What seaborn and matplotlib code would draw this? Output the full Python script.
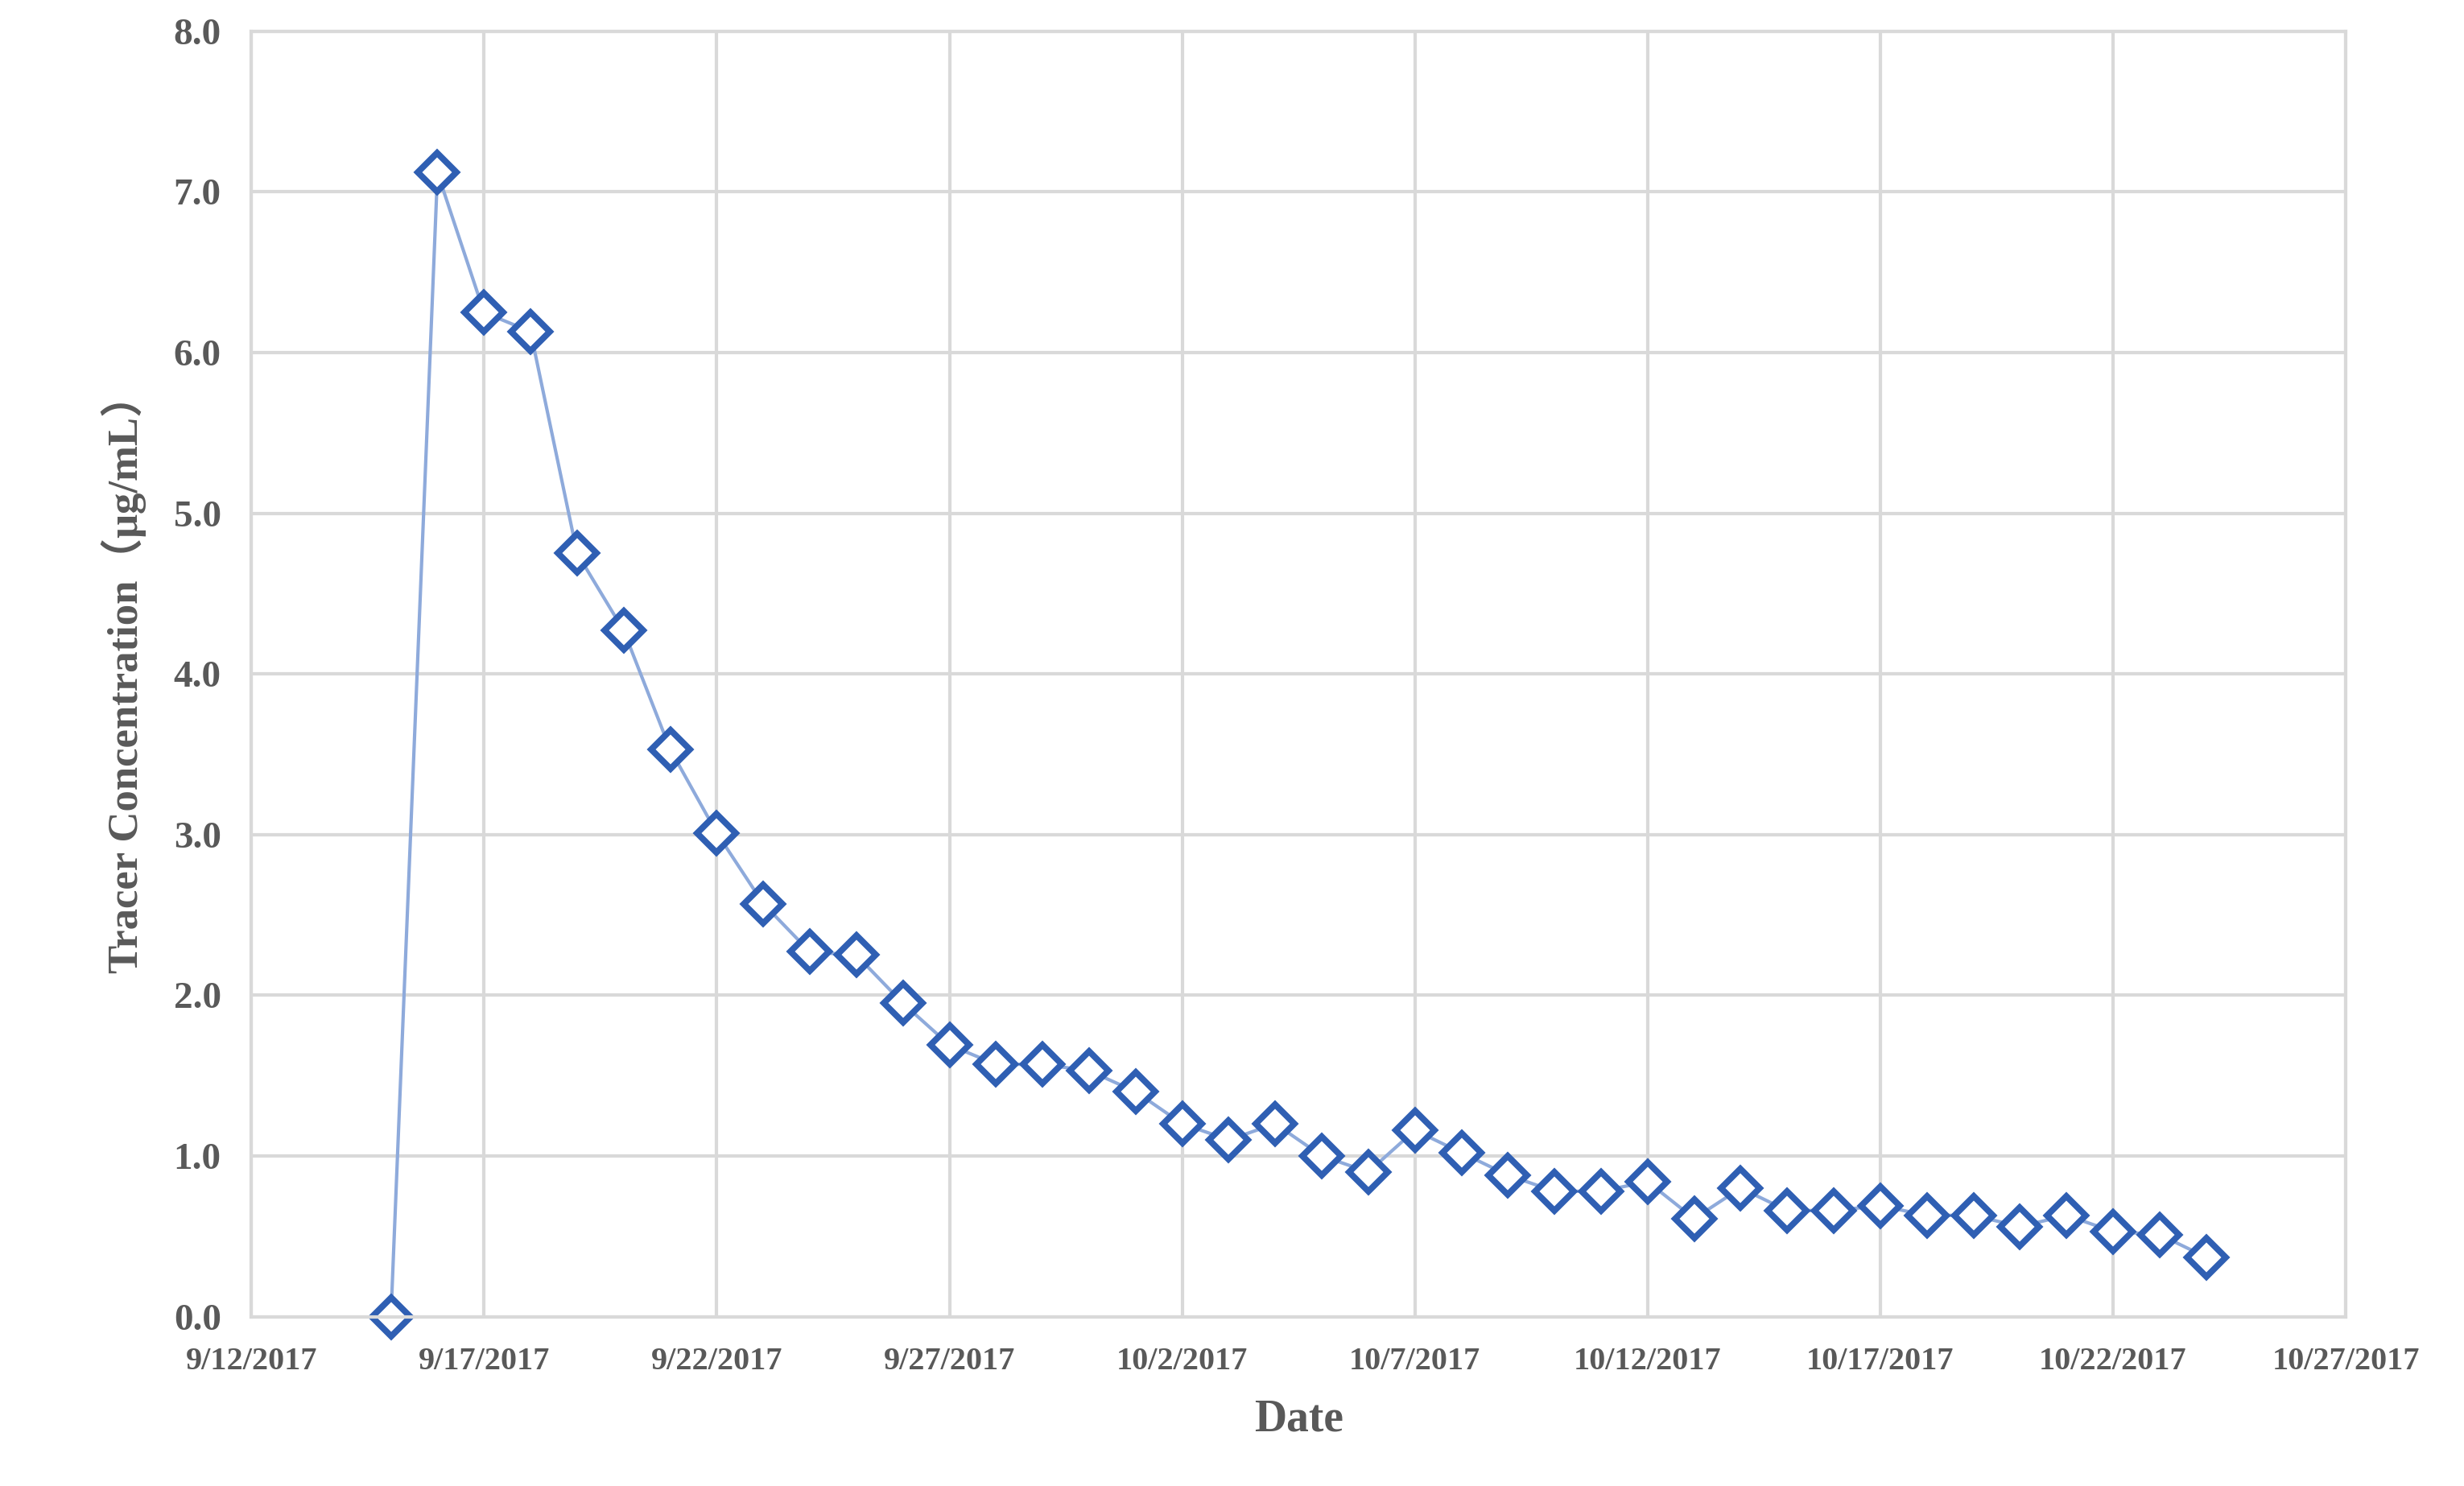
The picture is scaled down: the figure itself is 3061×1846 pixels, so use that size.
import numpy as np
import pandas as pd
import matplotlib.pyplot as plt
import seaborn as sns

# sample dates (9/15/2017 .. 10/24/2017, daily) and concentrations
dates = pd.date_range("2017-09-15", "2017-10-24", freq="D")
conc = [0.00, 7.12, 6.25, 6.13, 4.75, 4.27, 3.53, 3.01, 2.57, 2.27,
        2.25, 1.95, 1.69, 1.57, 1.57, 1.53, 1.40, 1.20, 1.10, 1.20,
        1.00, 0.90, 1.16, 1.02, 0.88, 0.78, 0.78, 0.84, 0.61, 0.80,
        0.66, 0.66, 0.69, 0.63, 0.63, 0.56, 0.63, 0.53, 0.51, 0.37]
tick_dates = pd.date_range("2017-09-12", "2017-10-27", freq="5D")
tick_labels = [f"{d.month}/{d.day}/{d.year}" for d in tick_dates]
start = pd.Timestamp("2017-09-12")

df = pd.DataFrame({"day": (dates - start).days, "conc": conc})

sns.set_style("whitegrid")
plt.rcParams["font.family"] = ["Liberation Serif", "Noto Sans CJK SC", "DejaVu Serif"]

fig = plt.figure(figsize=(15.305, 9.23), dpi=200)
ax = fig.add_axes([0.102, 0.114, 0.85, 0.865])

sns.lineplot(data=df, x="day", y="conc", ax=ax, color="#8eaadb", linewidth=1.5,
             marker="D", markersize=12, markerfacecolor="white",
             markeredgecolor="#2f5fb3", markeredgewidth=2.8, clip_on=False)

ax.set_xlim(0, 45)
ax.set_ylim(0, 8)
ax.set_xticks((tick_dates - start).days)
ax.set_xticklabels(tick_labels)
ax.set_yticks(np.arange(0, 8.1, 1))
ax.set_yticklabels([f"{v:.1f}" for v in np.arange(0, 8.1, 1)])
for lab in ax.get_xticklabels() + ax.get_yticklabels():
    lab.set_fontweight("bold")
    lab.set_color("#595959")
ax.tick_params(axis="x", labelsize=14.5, pad=10)
ax.tick_params(axis="y", labelsize=17, pad=10)
ax.grid(True, color="#d9d9d9", linewidth=1.5)
for s in ax.spines.values():
    s.set_color("#d9d9d9")
    s.set_linewidth(1.5)

ax.set_xlabel("Date", fontsize=20, fontweight="bold", color="#595959", labelpad=10)
ax.set_ylabel("Tracer Concentration（μg/mL）", fontsize=19, fontweight="bold",
              color="#595959", labelpad=12)

fig.savefig("out.png", dpi=200)
